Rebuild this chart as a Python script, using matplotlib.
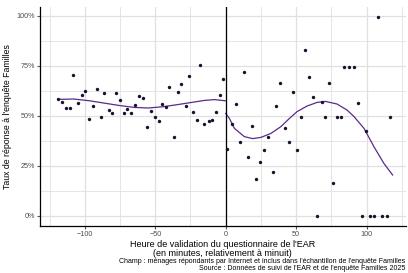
import matplotlib
matplotlib.use('Agg')
import matplotlib.pyplot as plt
from matplotlib.ticker import FuncFormatter, MultipleLocator

plt.rcParams['font.family'] = ['Liberation Sans', 'DejaVu Sans']
plt.rcParams['axes.unicode_minus'] = True

# points: minutes relative to midnight, response rate
heure_avant = [-118.9, -116.3, -113.4, -110.6, -108.4, -105.2, -102.3, -99.8, -96.9, -94.3,
               -91.5, -88.7, -86.1, -83.2, -80.7, -77.6, -75.2, -72.4, -69.8, -66.9,
               -64.1, -61.3, -58.5, -56.1, -53.3, -50.5, -47.6, -45.0, -42.2, -40.0,
               -37.0, -34.2, -31.4, -28.5, -25.9, -23.1, -20.5, -17.9, -15.1, -12.2,
               -9.4, -6.8, -4.2, -1.6]
taux_avant = [0.583, 0.568, 0.542, 0.538, 0.703, 0.563, 0.603, 0.625, 0.483, 0.548,
              0.637, 0.497, 0.613, 0.532, 0.515, 0.613, 0.582, 0.515, 0.535, 0.515,
              0.555, 0.602, 0.588, 0.445, 0.523, 0.497, 0.475, 0.558, 0.545, 0.643,
              0.397, 0.620, 0.662, 0.548, 0.698, 0.520, 0.482, 0.753, 0.458, 0.475,
              0.478, 0.518, 0.603, 0.687]

heure_apres = [1.0, 4.2, 7.1, 10.2, 13.0, 15.9, 18.7, 21.5, 24.6, 27.4,
               30.2, 33.3, 35.9, 38.9, 41.8, 44.6, 47.5, 50.5, 53.4, 56.4,
               59.0, 62.1, 64.9, 68.2, 70.8, 73.4, 76.4, 79.3, 82.1, 84.0,
               87.5, 91.1, 93.8, 96.7, 99.6, 102.4, 105.2, 108.4, 111.2, 114.2,
               116.8]
taux_apres = [0.333, 0.462, 0.562, 0.372, 0.722, 0.297, 0.450, 0.185, 0.270, 0.332,
              0.397, 0.220, 0.552, 0.663, 0.442, 0.372, 0.620, 0.330, 0.497, 0.828,
              0.695, 0.597, 0.0, 0.568, 0.497, 0.663, 0.164, 0.497, 0.497, 0.747,
              0.747, 0.747, 0.567, 0.0, 0.425, 0.0, 0.0, 0.993, 0.0, 0.0,
              0.497]

# smoothed curves
lisse_avant_x = [-119, -108, -96.5, -85, -75, -65, -55, -45, -35, -25, -15, -8, 0]
lisse_avant_y = [0.583, 0.585, 0.576, 0.563, 0.552, 0.543, 0.540, 0.546, 0.556, 0.567,
                 0.578, 0.582, 0.576]
lisse_apres_x = [0, 2.6, 6.2, 13.2, 19.1, 25, 32.1, 39.2, 45.1, 50.7, 57.8, 64.9, 70.8,
                 79, 86.1, 91.1, 98.2, 105.2, 112.3, 118.5]
lisse_apres_y = [0.513, 0.488, 0.438, 0.397, 0.387, 0.393, 0.413, 0.447, 0.487, 0.522,
                 0.550, 0.568, 0.573, 0.560, 0.530, 0.497, 0.438, 0.347, 0.263, 0.205]

y_ticks = [0, 0.25, 0.5, 0.75, 1.0]
x_ticks = [-100, -50, 0, 50, 100]

fig = plt.figure(figsize=(4.08, 2.73), dpi=100)
ax = fig.add_axes([39.5 / 408, 1 - 226 / 273, (406 - 39.5) / 408, (226 - 7) / 273])

point_col = '#1a0f2e'
curve_col = '#5b2a8c'

ax.scatter(heure_avant, taux_avant, s=6, color=point_col, zorder=3, linewidths=0)
ax.scatter(heure_apres, taux_apres, s=6, color=point_col, zorder=3, linewidths=0)
ax.plot(lisse_avant_x, lisse_avant_y, color=curve_col, lw=0.9, zorder=2)
ax.plot(lisse_apres_x, lisse_apres_y, color=curve_col, lw=0.9, zorder=2)
ax.axvline(0, color='black', lw=0.9, zorder=2)

ax.set_xlim(-132.2, 128)
ax.set_ylim(-0.05, 1.045)
ax.set_xticks(x_ticks)
ax.set_yticks(y_ticks)
ax.xaxis.set_minor_locator(MultipleLocator(25))
ax.yaxis.set_minor_locator(MultipleLocator(0.125))
ax.yaxis.set_major_formatter(FuncFormatter(lambda v, p: f'{v * 100:.0f}%'))

ax.grid(which='major', color='#e0e0e0', lw=0.9, zorder=0)
ax.grid(which='minor', color='#e0e0e0', lw=0.6, zorder=0)
ax.set_axisbelow(True)
for s in ['top', 'right']:
    ax.spines[s].set_visible(False)
for s in ['left', 'bottom']:
    ax.spines[s].set_color('black')
    ax.spines[s].set_linewidth(0.9)
ax.tick_params(which='both', length=0)
ax.tick_params(which='major', length=2, color='#555555', labelsize=5.2,
               labelcolor='#4d4d4d', pad=1.5)

ax.set_xlabel("Heure de validation du questionnaire de l'EAR\n(en minutes, relativement à minuit)",
              fontsize=6.45, labelpad=1.5, linespacing=1.05)
ax.set_ylabel("Taux de réponse à l'enquête Familles", fontsize=6.3, labelpad=3)

fig.text(405 / 408, 1 - 258 / 273,
         "Champ : ménages répondants par Internet et inclus dans l'échantillon de l'enquête Familles\n"
         "Source : Données de suivi de l'EAR et de l'enquête Familles 2025",
         ha='right', va='top', fontsize=5.0, linespacing=0.95)

fig.savefig('out.png', dpi=100)
